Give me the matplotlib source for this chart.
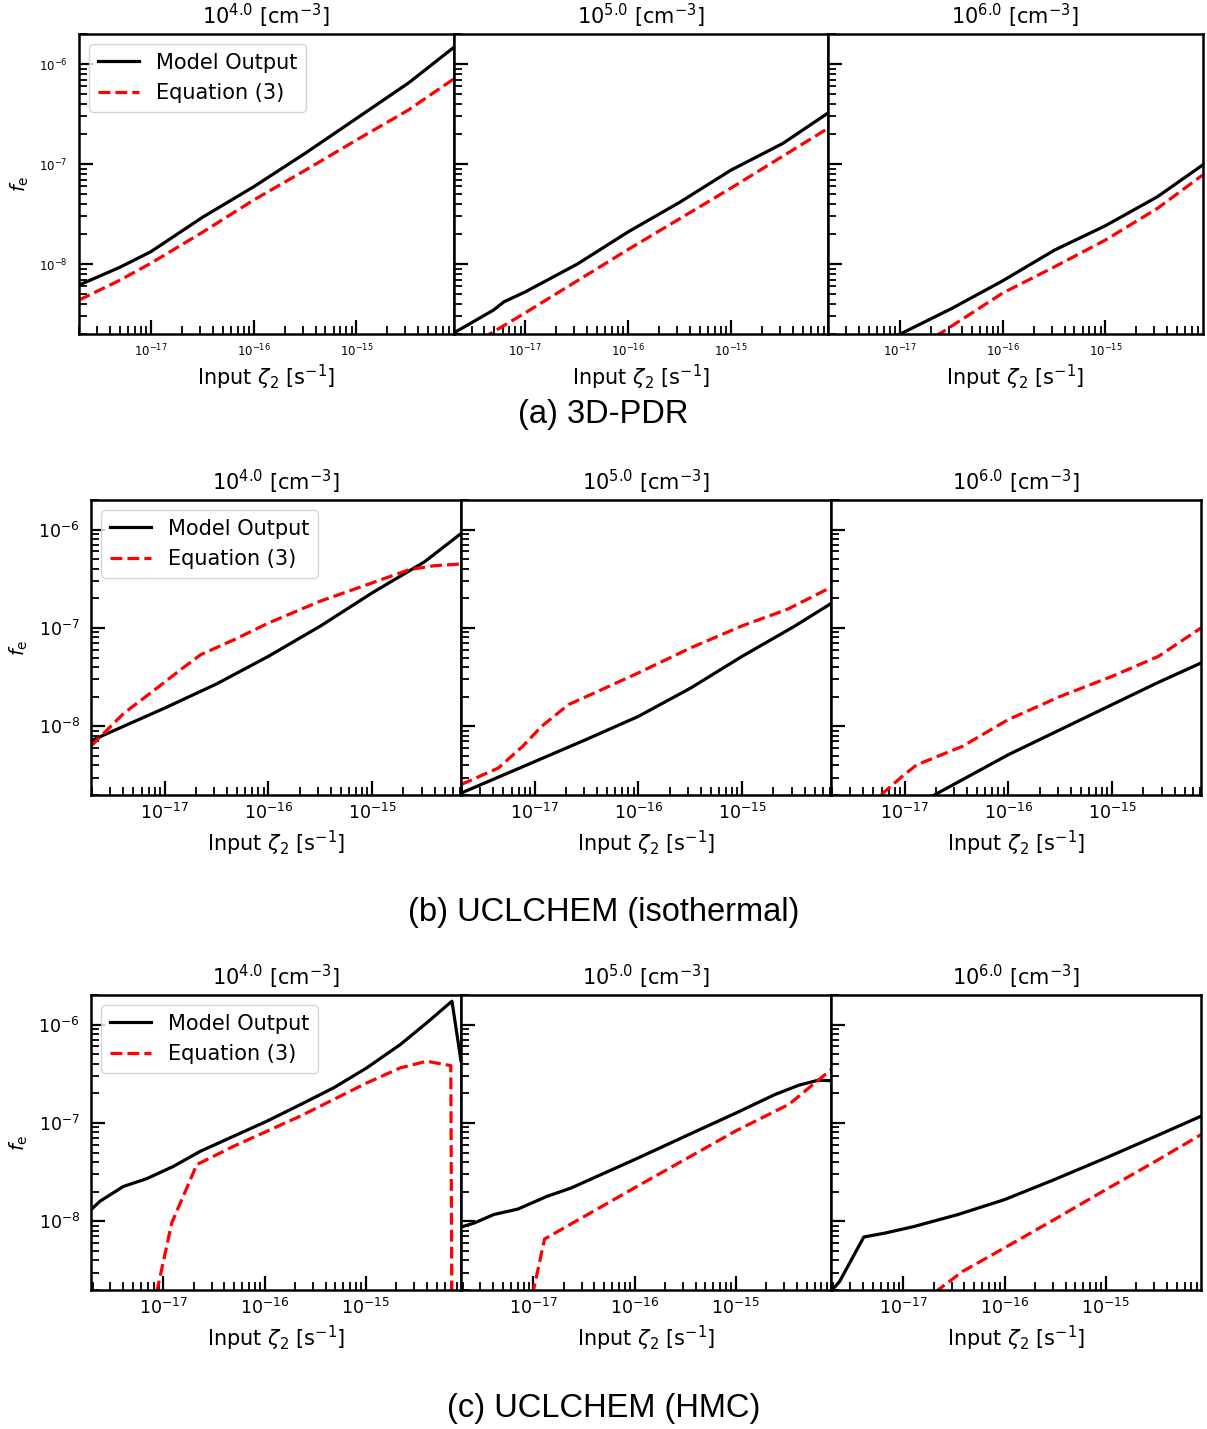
import numpy as np
import matplotlib.pyplot as plt

plt.rcParams['font.family'] = 'DejaVu Sans'
plt.rcParams['mathtext.fontset'] = 'dejavusans'

# panel titles / row captions
densities = ['$10^{4.0}$ [cm$^{-3}$]', '$10^{5.0}$ [cm$^{-3}$]', '$10^{6.0}$ [cm$^{-3}$]']
captions = ['(a) 3D-PDR', '(b) UCLCHEM (isothermal)', '(c) UCLCHEM (HMC)']
xlims = [(2.0e-18, 8.8e-15), (1.95e-18, 7.2e-15), (1.93e-18, 8.7e-15)]
ylim = (2.0e-9, 2.0e-6)
x_major = [1e-17, 1e-16, 1e-15]
y_major = [1e-8, 1e-7, 1e-6]

# ---- (a) 3D-PDR ----
pdr4_x = [2.0e-18, 5.0e-18, 1e-17, 3.2e-17, 1e-16, 3.2e-16, 1e-15, 3.2e-15, 8.8e-15]
pdr4_model = [6.17e-9, 9.3e-9, 1.33e-8, 2.95e-8, 5.93e-8, 1.29e-7, 2.86e-7, 6.46e-7, 1.46e-6]
pdr4_eq = [4.37e-9, 6.9e-9, 1.02e-8, 2.09e-8, 4.37e-8, 8.71e-8, 1.74e-7, 3.47e-7, 7.08e-7]

pdr5_xm = [2.0e-18, 4.9e-18, 6.2e-18, 1e-17, 3.2e-17, 1e-16, 3.2e-16, 1e-15, 3.2e-15, 8.8e-15]
pdr5_model = [2.04e-9, 3.47e-9, 4.2e-9, 5.28e-9, 1.0e-8, 2.1e-8, 4.17e-8, 8.7e-8, 1.61e-7, 3.24e-7]
pdr5_xe = [2.0e-18, 4.65e-18, 1e-17, 1e-16, 1e-15, 8.8e-15]
pdr5_eq = [1.2e-9, 2.04e-9, 3.26e-9, 1.4e-8, 5.75e-8, 2.28e-7]

pdr6_xm = [2.0e-18, 1.05e-17, 3.2e-17, 1e-16, 3.2e-16, 1e-15, 3.2e-15, 8.8e-15]
pdr6_model = [9e-10, 2.04e-9, 3.6e-9, 6.8e-9, 1.38e-8, 2.42e-8, 4.71e-8, 9.77e-8]
pdr6_xe = [2.0e-18, 2.5e-17, 1e-16, 3.2e-16, 1e-15, 3.2e-15, 8.8e-15]
pdr6_eq = [6e-10, 2.04e-9, 5.13e-9, 9.4e-9, 1.74e-8, 3.6e-8, 7.76e-8]

# ---- (b) UCLCHEM isothermal ----
iso4_xm = [1.95e-18, 1e-17, 3.2e-17, 1e-16, 3.2e-16, 1e-15, 3.2e-15, 7.2e-15]
iso4_model = [7.13e-9, 1.53e-8, 2.71e-8, 5.14e-8, 1.05e-7, 2.27e-7, 4.7e-7, 9.12e-7]
iso4_xe = [1.96e-18, 4.05e-18, 7.33e-18, 1.43e-17, 2.23e-17, 4.68e-17, 1e-16, 3.16e-16,
           1e-15, 2.29e-15, 4.0e-15, 7.2e-15]
iso4_eq = [6.32e-9, 1.36e-8, 2.18e-8, 3.77e-8, 5.35e-8, 7.6e-8, 1.12e-7, 1.87e-7,
           2.87e-7, 3.92e-7, 4.3e-7, 4.47e-7]

iso5_xm = [1.95e-18, 1e-17, 3.2e-17, 1e-16, 3.2e-16, 1e-15, 3.2e-15, 7.2e-15]
iso5_model = [2.09e-9, 4.37e-9, 7.4e-9, 1.26e-8, 2.45e-8, 5.14e-8, 1.04e-7, 1.77e-7]
iso5_xe = [1.95e-18, 4.48e-18, 7.66e-18, 1.17e-17, 2.12e-17, 3.8e-17, 1e-16, 3.24e-16,
           1e-15, 2.75e-15, 7.2e-15]
iso5_eq = [2.55e-9, 3.77e-9, 6.25e-9, 1.0e-8, 1.66e-8, 2.19e-8, 3.49e-8, 6.31e-8,
           1.05e-7, 1.55e-7, 2.59e-7]

iso6_xm = [1.95e-18, 1.9e-17, 1e-16, 3.16e-16, 1e-15, 2.7e-15, 7.2e-15]
iso6_model = [5.6e-10, 1.98e-9, 5.14e-9, 9.23e-9, 1.66e-8, 2.75e-8, 4.4e-8]
iso6_xe = [1.95e-18, 6.19e-18, 9.5e-18, 1.31e-17, 1.9e-17, 3.6e-17, 1e-16, 3.16e-16,
           1e-15, 2.8e-15, 7.2e-15]
iso6_eq = [7e-10, 2.09e-9, 3.1e-9, 4.06e-9, 4.75e-9, 6.25e-9, 1.17e-8, 2.01e-8,
           3.22e-8, 5.14e-8, 1.0e-7]

# ---- (c) UCLCHEM HMC ----
hmc4_xm = [1.93e-18, 2.37e-18, 4.03e-18, 6.85e-18, 1.26e-17, 2.31e-17, 4.92e-17, 1.05e-16,
           2.24e-16, 4.79e-16, 1.02e-15, 2.19e-15, 3.98e-15, 7.08e-15, 8.7e-15]
hmc4_model = [1.31e-8, 1.6e-8, 2.26e-8, 2.71e-8, 3.62e-8, 5.14e-8, 7.31e-8, 1.04e-7,
              1.53e-7, 2.27e-7, 3.63e-7, 6.27e-7, 1.04e-6, 1.73e-6, 4.27e-7]
hmc4_xe = [8.6e-18, 1.21e-17, 2.14e-17, 4.92e-17, 1.05e-16, 2.24e-16, 4.79e-16, 1.02e-15,
           2.19e-15, 3.98e-15, 6.9e-15, 8.7e-15]
hmc4_eq = [1.9e-9, 9.6e-9, 3.77e-8, 5.78e-8, 8.22e-8, 1.17e-7, 1.73e-7, 2.55e-7,
           3.63e-7, 4.24e-7, 3.83e-7, 1e-30]

hmc5_xm = [1.91e-18, 2.61e-18, 4.06e-18, 7.03e-18, 1.36e-17, 2.36e-17, 1e-16, 3.72e-16,
           1e-15, 2.42e-15, 4.19e-15, 6.5e-15, 8.7e-15]
hmc5_model = [8.7e-9, 9.6e-9, 1.17e-8, 1.33e-8, 1.79e-8, 2.18e-8, 4.24e-8, 7.91e-8,
              1.26e-7, 1.94e-7, 2.42e-7, 2.72e-7, 2.69e-7]
hmc5_xe = [9.8e-18, 1.29e-17, 1e-16, 1e-15, 3.36e-15, 8.7e-15]
hmc5_eq = [1.78e-9, 6.6e-9, 2.19e-8, 8.3e-8, 1.55e-7, 3.48e-7]

hmc6_xm = [1.99e-18, 2.35e-18, 4.07e-18, 6.67e-18, 1.29e-17, 3.45e-17, 1e-16, 3.09e-16,
           1e-15, 3.09e-15, 8.7e-15]
hmc6_model = [2.01e-9, 2.45e-9, 6.92e-9, 7.6e-9, 8.87e-9, 1.17e-8, 1.66e-8, 2.65e-8,
              4.41e-8, 7.31e-8, 1.17e-7]
hmc6_xe = [2.06e-17, 3.85e-17, 1e-16, 3.09e-16, 1e-15, 3.09e-15, 8.7e-15]
hmc6_eq = [1.9e-9, 3.09e-9, 5.37e-9, 1.04e-8, 2.1e-8, 4.07e-8, 7.6e-8]

rows = [
    [(pdr4_x, pdr4_model, pdr4_x, pdr4_eq),
     (pdr5_xm, pdr5_model, pdr5_xe, pdr5_eq),
     (pdr6_xm, pdr6_model, pdr6_xe, pdr6_eq)],
    [(iso4_xm, iso4_model, iso4_xe, iso4_eq),
     (iso5_xm, iso5_model, iso5_xe, iso5_eq),
     (iso6_xm, iso6_model, iso6_xe, iso6_eq)],
    [(hmc4_xm, hmc4_model, hmc4_xe, hmc4_eq),
     (hmc5_xm, hmc5_model, hmc5_xe, hmc5_eq),
     (hmc6_xm, hmc6_model, hmc6_xe, hmc6_eq)],
]

# layout in pixels
W, H = 1207, 1429
row_lefts = [[79, 453.5, 828], [91, 461, 831], [91, 461, 831]]
row_width = [374.5, 370, 370]
row_top = [34, 500, 995]
row_height = [300, 295, 295]
tick_size = [8.5, 12.5, 12.5]
xlabel_pad = [2.5, 4, 4]
caption_y = [415, 912, 1408]

fig = plt.figure(figsize=(W / 100, H / 100), dpi=100)

for r in range(3):
    ax0 = None
    for c in range(3):
        rect = [row_lefts[r][c] / W, 1 - (row_top[r] + row_height[r]) / H,
                row_width[r] / W, row_height[r] / H]
        ax = fig.add_axes(rect, sharey=ax0)
        if ax0 is None:
            ax0 = ax
        xm, ym, xe, ye = rows[r][c]
        ax.plot(xm, ym, color='black', lw=2.3, label='Model Output')
        ax.plot(xe, ye, color='red', lw=2.3, ls='--', label='Equation (3)')
        ax.set_xscale('log')
        ax.set_yscale('log')
        ax.set_xticks(x_major)
        ax.set_yticks(y_major)
        ax.set_xlim(*xlims[r])
        ax.set_ylim(*ylim)
        ax.set_title(densities[c], fontsize=15, pad=7)
        ax.set_xlabel(r'Input $\zeta_2$ [s$^{-1}$]', fontsize=15, labelpad=xlabel_pad[r])
        ax.tick_params(which='major', direction='in', length=10, width=1.6,
                       labelsize=tick_size[r], pad=6)
        ax.tick_params(which='minor', direction='in', length=6, width=1.3,
                       labelbottom=False, labelleft=False)
        ax.tick_params(axis='y', pad=8)
        for s in ax.spines.values():
            s.set_linewidth(1.8)
        if c == 0:
            ax.set_ylabel(r'$f_{\rm e}$', fontsize=14, labelpad=6)
            ax.legend(loc='upper left', fontsize=15)
        else:
            ax.tick_params(axis='y', which='both', labelleft=False)
    fig.text(0.5, 1 - caption_y[r] / H, captions[r], ha='center', va='center',
             fontsize=23.5, family='Liberation Sans')

fig.savefig('out.png', dpi=100)
